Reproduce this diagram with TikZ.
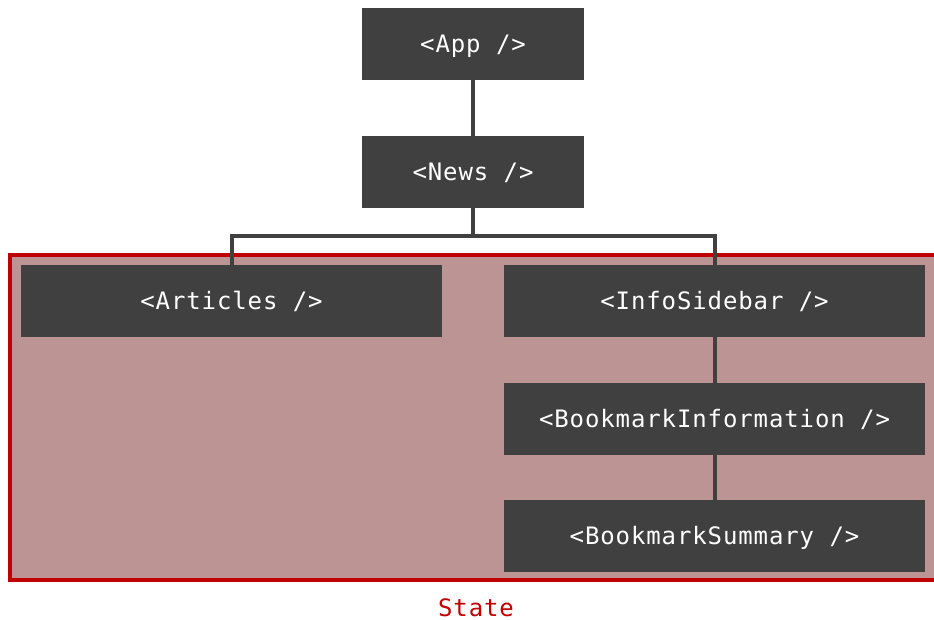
\documentclass[tikz,border=0pt]{standalone}
\usepackage{fontspec}
\newfontfamily\monofont[LetterSpace=3.7]{DejaVu Sans Mono}
\definecolor{boxgray}{HTML}{404040}
\definecolor{statered}{HTML}{C00000}
\definecolor{statefill}{HTML}{BD9494}
\begin{document}
\begin{tikzpicture}[x=0.75pt,y=-0.75pt,
  label font/.style={font=\monofont\fontsize{18pt}{21pt}\selectfont, text height=13pt, text depth=0pt},
  comp/.style={label font, fill=boxgray, draw=none, text=white, minimum width=166.5pt, minimum height=54pt, inner sep=0pt},
  widecomp/.style={comp, minimum width=315.75pt},
  link/.style={draw=boxgray, line width=3pt}]
\useasboundingbox (0,0) rectangle (934,620);
\clip (0,0) rectangle (934,620);
\draw[statered, fill=statefill, line width=3pt] (10,255) rectangle (950,580);
\node[comp] (app) at (473,44) {<App />};
\node[comp] (news) at (473,172) {<News />};
\node[widecomp] (articles) at (231.5,301) {<Articles />};
\node[widecomp] (info) at (714.5,301) {<InfoSidebar />};
\node[widecomp] (bminfo) at (714.5,419) {<BookmarkInformation />};
\node[widecomp] (bmsum) at (714.5,536) {<BookmarkSummary />};
\coordinate (split) at (473,236);
\draw[link] (app.south) -- (news.north);
\draw[link] (news.south) -- (split);
\draw[link] (articles.north) |- (split) -| (info.north);
\draw[link] (info.south) -- (bminfo.north);
\draw[link] (bminfo.south) -- (bmsum.north);
\node[label font, text=statered, inner sep=0pt] (state) at (476,608) {State};
\end{tikzpicture}
\end{document}
